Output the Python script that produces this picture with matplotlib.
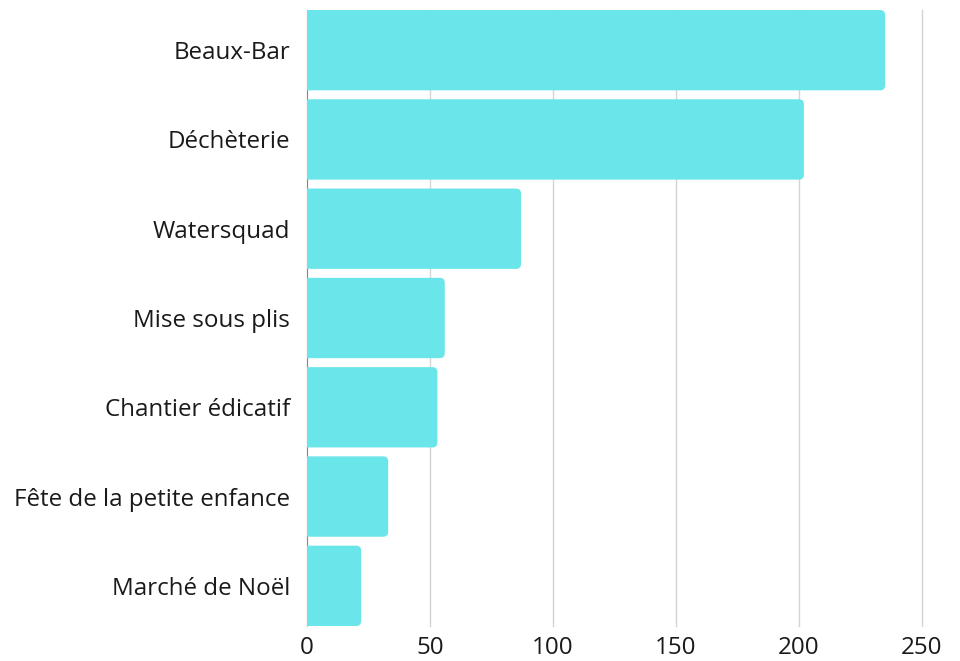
import matplotlib
matplotlib.use("Agg")
import matplotlib.pyplot as plt
from matplotlib.patches import FancyBboxPatch

categories = ["Beaux-Bar", "Déchèterie", "Watersquad", "Mise sous plis",
              "Chantier édicatif", "Fête de la petite enfance", "Marché de Noël"]
values = [235, 202, 87, 56, 53, 33, 22]
xticks = [0, 50, 100, 150, 200, 250]

plt.rcParams['font.family'] = ['Open Sans', 'DejaVu Sans']

fig = plt.figure(figsize=(9.6, 6.61), dpi=100)
ax = fig.add_axes([307/960, 1 - 626/661, 615/960, 616/661])

bar_color = "#6AE5E9"
ypos = list(range(len(categories)))
bars = ax.barh(ypos, values, height=0.9, color=bar_color, zorder=3)
ax.set_xlim(0, 250)
ax.set_ylim(6.45, -0.45)

# replace with rounded-right-corner bars
px_x = 615 / 250.0
px_y = 616 / 6.9
radius_px = 5
aspect = (1 / px_y) / (1 / px_x)
for r in list(bars):
    x0, y0 = r.get_x(), r.get_y()
    w, h = r.get_width(), r.get_height()
    r.set_visible(False)
    p = FancyBboxPatch((x0 - 10, y0), w + 10, h,
                       boxstyle=f"round,pad=0,rounding_size={radius_px / px_x}",
                       mutation_aspect=aspect, facecolor=bar_color,
                       edgecolor="none", zorder=3, clip_on=True)
    ax.add_patch(p)

ax.set_yticks(ypos)
ax.set_yticklabels(categories, fontsize=17.4, color="#1a1a1a")
ax.set_xticks(xticks)
ax.set_xticklabels([str(t) for t in xticks], fontsize=17.4, color="#1a1a1a")
ax.tick_params(axis='y', length=0, pad=12)
ax.tick_params(axis='x', length=0, pad=7)

for t in xticks:
    ax.axvline(t, color="#d4d4d4", linewidth=1, zorder=1, clip_on=False)
for s in ax.spines.values():
    s.set_visible(False)
ax.axvline(0, color="#777777", linewidth=1.2, zorder=2)

fig.savefig("out.png", dpi=100)
